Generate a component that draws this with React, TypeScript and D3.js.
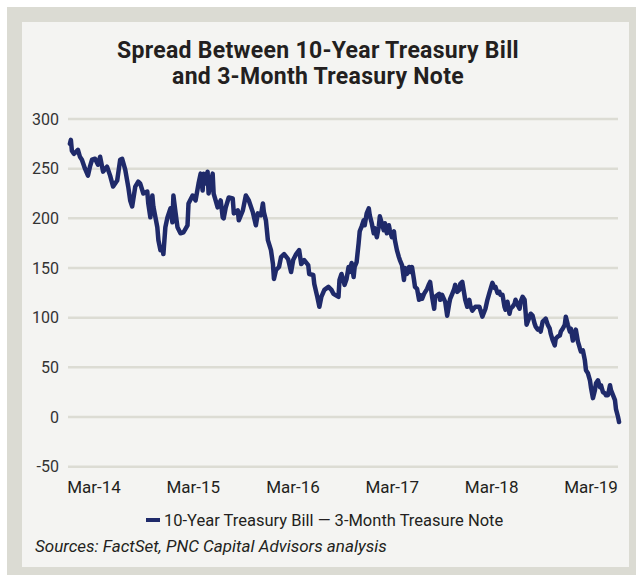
import React from "react";
import * as d3 from "d3";

// Decimal-year dates and spread values (basis points)
const years = [
  2013.919, 2013.929, 2013.939, 2013.959, 2013.98, 2014.0, 2014.02, 2014.04, 2014.071, 2014.101,
  2014.121, 2014.142, 2014.172, 2014.202, 2014.223, 2014.253, 2014.293, 2014.324, 2014.354, 2014.395,
  2014.425, 2014.445, 2014.476, 2014.506, 2014.526, 2014.546, 2014.577, 2014.607, 2014.627, 2014.658,
  2014.698, 2014.708, 2014.729, 2014.749, 2014.759, 2014.799, 2014.81, 2014.83, 2014.85, 2014.86,
  2014.88, 2014.901, 2014.931, 2014.951, 2014.961, 2014.982, 2015.002, 2015.032, 2015.063, 2015.103,
  2015.113, 2015.154, 2015.184, 2015.214, 2015.235, 2015.255, 2015.265, 2015.285, 2015.305, 2015.315,
  2015.356, 2015.366, 2015.386, 2015.406, 2015.437, 2015.457, 2015.467, 2015.488, 2015.518, 2015.558,
  2015.569, 2015.609, 2015.619, 2015.66, 2015.69, 2015.72, 2015.761, 2015.791, 2015.811, 2015.842,
  2015.862, 2015.872, 2015.892, 2015.912, 2015.943, 2015.963, 2015.973, 2015.994, 2016.024, 2016.044,
  2016.075, 2016.115, 2016.145, 2016.166, 2016.196, 2016.226, 2016.247, 2016.277, 2016.317, 2016.327,
  2016.368, 2016.378, 2016.408, 2016.429, 2016.449, 2016.479, 2016.52, 2016.55, 2016.57, 2016.621,
  2016.631, 2016.651, 2016.682, 2016.702, 2016.722, 2016.732, 2016.753, 2016.773, 2016.783, 2016.803,
  2016.823, 2016.834, 2016.854, 2016.874, 2016.884, 2016.904, 2016.925, 2016.935, 2016.955, 2016.975,
  2016.985, 2017.006, 2017.026, 2017.036, 2017.056, 2017.076, 2017.087, 2017.107, 2017.127, 2017.137,
  2017.157, 2017.178, 2017.188, 2017.208, 2017.228, 2017.238, 2017.259, 2017.279, 2017.289, 2017.309,
  2017.33, 2017.34, 2017.36, 2017.38, 2017.39, 2017.411, 2017.431, 2017.441, 2017.461, 2017.481,
  2017.512, 2017.532, 2017.542, 2017.562, 2017.583, 2017.593, 2017.633, 2017.643, 2017.663, 2017.694,
  2017.714, 2017.734, 2017.744, 2017.765, 2017.785, 2017.795, 2017.815, 2017.836, 2017.846, 2017.866,
  2017.886, 2017.896, 2017.916, 2017.937, 2017.947, 2017.967, 2017.997, 2018.038, 2018.068, 2018.099,
  2018.119, 2018.139, 2018.169, 2018.19, 2018.2, 2018.22, 2018.24, 2018.25, 2018.271, 2018.291,
  2018.301, 2018.321, 2018.341, 2018.352, 2018.372, 2018.392, 2018.402, 2018.422, 2018.443, 2018.453,
  2018.473, 2018.493, 2018.503, 2018.513, 2018.544, 2018.554, 2018.574, 2018.594, 2018.605, 2018.625,
  2018.645, 2018.655, 2018.675, 2018.696, 2018.706, 2018.726, 2018.746, 2018.756, 2018.777, 2018.797,
  2018.807, 2018.827, 2018.848, 2018.858, 2018.878, 2018.898, 2018.908, 2018.928, 2018.949, 2018.959,
  2018.979, 2018.999, 2019.009, 2019.03, 2019.05, 2019.06, 2019.08, 2019.1, 2019.111, 2019.131,
  2019.151, 2019.161, 2019.181, 2019.201, 2019.212, 2019.232, 2019.252, 2019.262, 2019.282, 2019.302,
  2019.312, 2019.333, 2019.353, 2019.363, 2019.383, 2019.403, 2019.413, 2019.434, 2019.444,
];

const spread = [
  275, 279, 268, 265, 267, 269, 262, 259, 250, 243,
  252, 259, 260, 254, 262, 247, 252, 243, 232, 238,
  259, 260, 249, 232, 218, 212, 232, 237, 235, 225,
  227, 215, 201, 223, 212, 191, 178, 168, 171, 164,
  191, 201, 210, 196, 223, 206, 191, 185, 186, 193,
  215, 223, 218, 235, 245, 228, 245, 235, 247, 225,
  245, 225, 218, 211, 218, 201, 200, 211, 221, 220,
  205, 208, 198, 208, 223, 218, 206, 193, 205, 203,
  215, 206, 198, 178, 168, 154, 139, 148, 151, 161,
  164, 159, 146, 158, 164, 168, 154, 158, 153, 144,
  143, 134, 121, 111, 121, 128, 131, 128, 124, 121,
  138, 144, 133, 139, 151, 146, 155, 141, 151, 156,
  175, 187, 192, 198, 193, 205, 210, 203, 195, 185,
  190, 181, 192, 202, 195, 188, 195, 185, 193, 188,
  181, 187, 178, 168, 161, 158, 153, 138, 150, 144,
  151, 146, 151, 138, 131, 129, 118, 123, 119, 124,
  129, 134, 136, 121, 109, 121, 124, 118, 123, 116,
  102, 114, 119, 124, 129, 133, 126, 128, 134, 136,
  124, 118, 111, 118, 112, 107, 111, 111, 101, 109,
  118, 125, 135, 130, 131, 125, 126, 123, 123, 111,
  108, 116, 104, 109, 111, 114, 118, 113, 109, 116,
  121, 118, 106, 93, 101, 104, 102, 94, 91, 88,
  89, 86, 96, 98, 99, 93, 89, 84, 77, 72,
  79, 81, 82, 86, 89, 93, 101, 93, 86, 89,
  77, 84, 88, 76, 69, 66, 67, 57, 47, 44,
  37, 30, 19, 27, 34, 37, 30, 32, 25, 24,
  22, 22, 32, 27, 22, 17, 8, 0, -5,
];

const yTicks = [300, 250, 200, 150, 100, 50, 0, -50];
const xTickYears = [2014, 2015, 2016, 2017, 2018, 2019];
const xTickLabels = ["Mar-14", "Mar-15", "Mar-16", "Mar-17", "Mar-18", "Mar-19"];
const titleLines = ["Spread Between 10-Year Treasury Bill", "and 3-Month Treasury Note"];
const legendLabel = "10-Year Treasury Bill \u2014 3-Month Treasure Note";
const sourceText = "Sources: FactSet, PNC Capital Advisors analysis";

function yearToDate(y: number): Date {
  const yr = Math.floor(y);
  const start = new Date(yr, 0, 1).getTime();
  const end = new Date(yr + 1, 0, 1).getTime();
  return new Date(start + (y - yr) * (end - start));
}

const W = 636;
const H = 575;
const NAVY = "#1f2a6a";
const GRID = "#dcdcd4";
const FONT = "Roboto, 'Noto Sans', sans-serif";

export default function App() {
  const x = d3
    .scaleTime()
    .domain([new Date(2014, 2, 1), new Date(2019, 2, 1)])
    .range([94, 591]);
  const y = d3.scaleLinear().domain([-50, 300]).range([466.7, 119]);

  const data = years.map((yr, i) => ({ date: yearToDate(yr), v: spread[i] }));
  const line = d3
    .line<{ date: Date; v: number }>()
    .x((d) => x(d.date))
    .y((d) => y(d.v));

  return (
    <svg
      width={W}
      height={H}
      style={{ position: "absolute", left: 0, top: 0, display: "block" }}
    >
      <rect x={0} y={0} width={W} height={H} fill="#ffffff" />
      <rect x={7} y={7} width={W - 7} height={H - 7} fill="#dbdbd3" />
      <rect x={22} y={22} width={607} height={545} fill="#f4f4f2" />

      {titleLines.map((t, i) => (
        <text
          key={t}
          x={318}
          y={58 + i * 26}
          textAnchor="middle"
          fontFamily={FONT}
          fontWeight={700}
          fontSize={23}
          letterSpacing={0.3}
          fill="#231f20"
        >
          {t}
        </text>
      ))}

      {yTicks.map((t) => (
        <g key={t}>
          <line x1={68} x2={618} y1={y(t)} y2={y(t)} stroke={GRID} strokeWidth={2.5} />
          <text
            x={59}
            y={y(t)}
            dy="0.36em"
            textAnchor="end"
            fontFamily={FONT}
            fontSize={16}
            fill="#333333"
          >
            {t}
          </text>
        </g>
      ))}

      <path
        d={line(data) || ""}
        fill="none"
        stroke={NAVY}
        strokeWidth={4.5}
        strokeLinejoin="round"
        strokeLinecap="round"
      />

      {xTickYears.map((yr, i) => (
        <text
          key={yr}
          x={x(new Date(yr, 2, 1))}
          y={493}
          textAnchor="middle"
          fontFamily={FONT}
          fontSize={17}
          fill="#231f20"
        >
          {xTickLabels[i]}
        </text>
      ))}

      <line x1={146} x2={160} y1={520} y2={520} stroke={NAVY} strokeWidth={4} />
      <text x={164} y={525.5} fontFamily={FONT} fontSize={16.5} fill="#231f20">
        {legendLabel}
      </text>

      <text x={35} y={551.5} fontFamily={FONT} fontStyle="italic" fontSize={17} fill="#231f20">
        {sourceText}
      </text>
    </svg>
  );
}
